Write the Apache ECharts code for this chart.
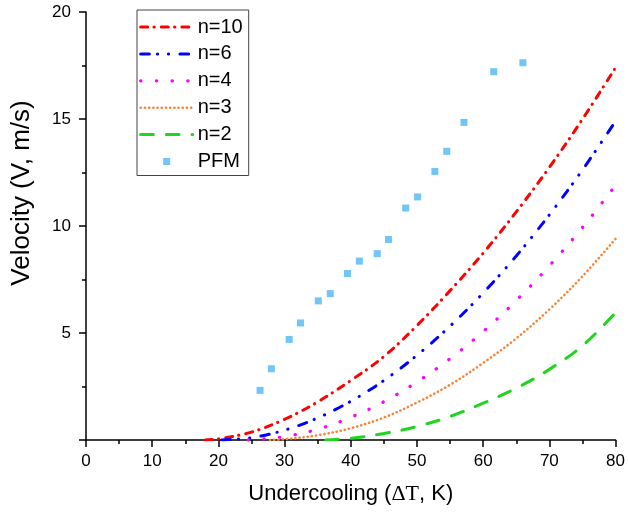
<!DOCTYPE html>
<html>
<head>
<meta charset="utf-8">
<script src="https://cdn.jsdelivr.net/npm/echarts@6/dist/echarts.min.js"></script>
<style>html,body{margin:0;padding:0;background:#fff}#c{width:628px;height:514px}</style>
</head>
<body>
<div id="c"></div>
<script>
// ---- data ----
const n10X = [18, 20, 25, 30, 35, 40, 45, 50, 55, 60, 65, 70, 75, 80];
const n10Y = [0, 0.05, 0.37, 0.97, 1.78, 2.78, 3.9, 5.35, 6.98, 8.73, 10.66, 12.74, 14.99, 17.4];
const n6X = [20.5, 25, 30, 35, 40, 45, 50, 55, 60, 65, 70, 75, 80];
const n6Y = [0, 0.11, 0.46, 1.03, 1.81, 2.78, 3.96, 5.32, 6.87, 8.6, 10.52, 12.62, 14.9];
const n4X = [24.5, 27, 30, 35, 40, 45, 50, 55, 60, 65, 70, 75, 80];
const n4Y = [0, 0.05, 0.16, 0.5, 1.06, 1.79, 2.71, 3.8, 5.07, 6.52, 8.14, 9.93, 11.9];
const n3X = [27.8, 30, 35, 40, 45, 50, 55, 60, 65, 70, 75, 80];
const n3Y = [0, 0.04, 0.22, 0.55, 1.05, 1.75, 2.58, 3.6, 4.75, 6.1, 7.65, 9.4];
const n2X = [36.2, 40, 45, 50, 55, 60, 65, 70, 75, 80];
const n2Y = [0, 0.08, 0.3, 0.63, 1.1, 1.72, 2.42, 3.3, 4.4, 5.95];
const pfmX = [26.3, 28.0, 30.7, 32.4, 35.1, 36.9, 39.5, 41.3, 44.0, 45.7, 48.3, 50.1, 52.7, 54.5, 57.1, 61.6, 66.0];
const pfmY = [2.32, 3.33, 4.70, 5.47, 6.50, 6.84, 7.78, 8.36, 8.71, 9.37, 10.84, 11.36, 12.55, 13.49, 14.84, 17.21, 17.63];
const seriesNames = ['n=10', 'n=6', 'n=4', 'n=3', 'n=2', 'PFM'];
const xTicks = [0, 10, 20, 30, 40, 50, 60, 70, 80];
const yTicks = [5, 10, 15, 20];

const pairs = (xs, ys) => xs.map((x, i) => [x, ys[i]]);
const font = 'Liberation Sans, Arial, sans-serif';

function lineSeries(name, xs, ys, color, width, dash) {
  return {
    name, type: 'line', data: pairs(xs, ys), smooth: 0.35,
    symbol: 'none', showSymbol: false, animation: false,
    lineStyle: { color, width, type: dash, cap: 'round' },
    itemStyle: { color }
  };
}

const chart = echarts.init(document.getElementById('c'), null, { renderer: 'canvas' });
chart.setOption({
  animation: false,
  backgroundColor: '#fff',
  grid: { left: 86, right: 9, top: 12, bottom: 74, containLabel: false },
  legend: {
    orient: 'vertical', left: 137, top: 10,
    padding: [7, 6, 4, 2],
    itemWidth: 52, itemHeight: 7, itemGap: 6.9,
    borderColor: '#444', borderWidth: 1,
    lineStyle: { width: 'inherit', type: 'inherit', cap: 'inherit' },
    textStyle: { fontFamily: font, fontSize: 20, color: '#000' },
    data: seriesNames.map(n => n === 'PFM'
      ? { name: n, icon: 'path://M0,0L10,0L10,10L0,10Z' }
      : { name: n, itemStyle: { opacity: 0 } })
  },
  xAxis: {
    type: 'value', min: 0, max: 80, interval: 10,
    name: 'Undercooling ({s|ΔT}, K)', nameLocation: 'middle', nameGap: 43,
    nameTextStyle: { fontFamily: font, fontSize: 22, color: '#000',
      rich: { s: { fontFamily: 'Liberation Serif, Times New Roman, serif', fontSize: 22, color: '#000' } } },
    axisLine: { show: true, onZero: false, lineStyle: { color: '#000', width: 1.5 } },
    axisTick: { show: true, inside: false, length: 7, lineStyle: { color: '#000', width: 1.5 } },
    minorTick: { show: true, splitNumber: 2, length: 4, lineStyle: { color: '#000', width: 1.5 } },
    splitLine: { show: false },
    axisLabel: { fontFamily: font, fontSize: 17, color: '#000', margin: 13,
      formatter: v => xTicks.includes(v) ? String(v) : '' }
  },
  yAxis: {
    type: 'value', min: 0, max: 20, interval: 5,
    name: 'Velocity (V, m/s)', nameLocation: 'middle', nameGap: 51,
    nameTextStyle: { fontFamily: font, fontSize: 26, color: '#000', padding: [0, 0, 0, 66] },
    axisLine: { show: true, onZero: false, lineStyle: { color: '#000', width: 1.5 } },
    axisTick: { show: true, inside: false, length: 7, lineStyle: { color: '#000', width: 1.5 } },
    minorTick: { show: true, splitNumber: 2, length: 4, lineStyle: { color: '#000', width: 1.5 } },
    splitLine: { show: false },
    axisLabel: { fontFamily: font, fontSize: 17, color: '#000', margin: 15,
      formatter: v => yTicks.includes(v) ? String(v) : '' }
  },
  series: [
    lineSeries(seriesNames[0], n10X, n10Y, '#FF0000', 3, [7, 6.3, 0.3, 7]),
    lineSeries(seriesNames[1], n6X, n6Y, '#0000FF', 3, [8.7, 8, 0.3, 10.7, 0.3, 11.3]),
    lineSeries(seriesNames[2], n4X, n4Y, '#FF00FF', 3.3, [0.3, 15.4]),
    lineSeries(seriesNames[3], n3X, n3Y, '#F5883A', 2.6, [0.2, 4.0]),
    lineSeries(seriesNames[4], n2X, n2Y, '#20D420', 3, [12.7, 13]),
    {
      name: seriesNames[5], type: 'scatter', data: pairs(pfmX, pfmY),
      symbol: 'rect', symbolSize: 7, animation: false,
      itemStyle: { color: '#4FB6F6' }
    }
  ]
});
</script>
</body>
</html>
